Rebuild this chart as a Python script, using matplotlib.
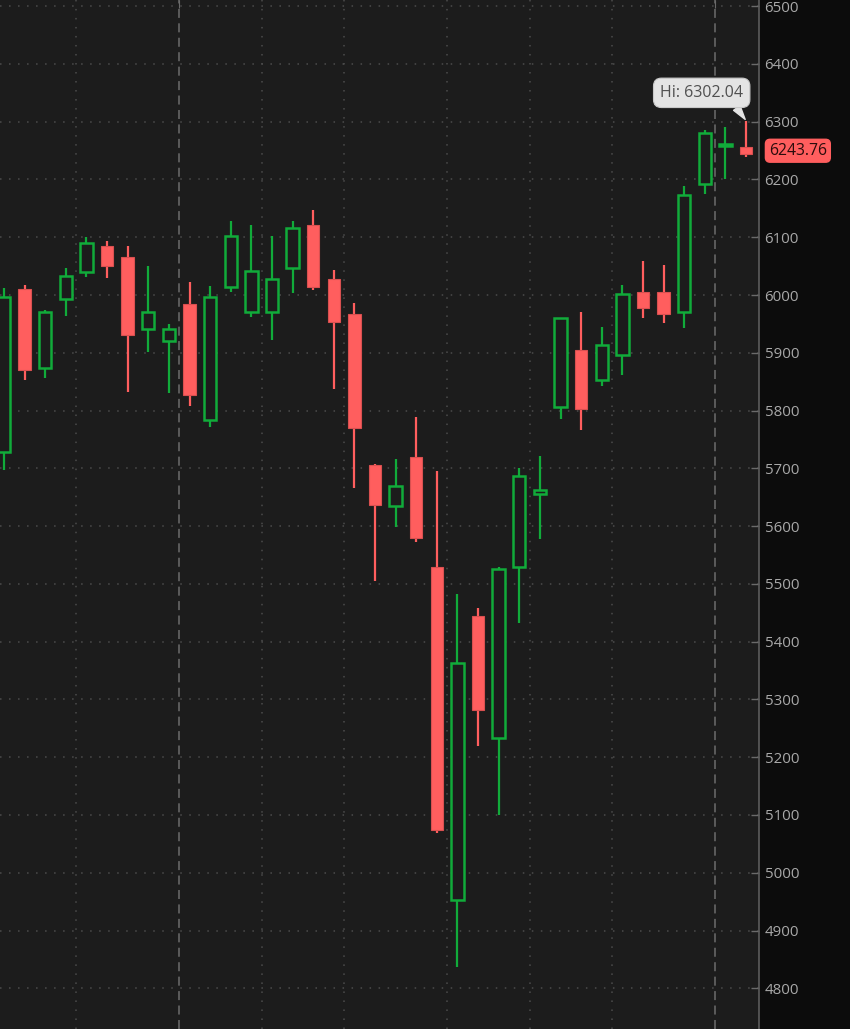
import matplotlib
matplotlib.use("Agg")

import matplotlib.pyplot as plt
import numpy as np

# weekly candles (left to right)
opens = [5728, 6010, 5874, 5993, 6040, 6085, 6065, 5942, 5921, 5984,
         5783, 6014, 5970, 5970, 6046, 6122, 6028, 5968, 5706, 5635,
         5719, 5530, 4953, 5444, 5233, 5529, 5656, 5807, 5904, 5853,
         5897, 6005, 6005, 5971, 6193, 6258, 6257]
highs = [6013, 6018, 5974, 6046, 6101, 6094, 6085, 6051, 5950, 6023,
         6016, 6129, 6122, 6103, 6129, 6148, 6044, 5987, 5708, 5716,
         5789, 5696, 5483, 5459, 5530, 5701, 5722, 5961, 5971, 5945,
         6018, 6059, 6052, 6189, 6285, 6290, 6302.04]
lows = [5697, 5853, 5856, 5964, 6032, 6029, 5832, 5902, 5830, 5808,
        5772, 6006, 5962, 5923, 6004, 6009, 5837, 5666, 5505, 5598,
        5572, 5068, 4836, 5219, 5100, 5433, 5578, 5785, 5767, 5843,
        5861, 5961, 5951, 5943, 6175, 6201, 6239]
closes = [5997, 5870, 5971, 6033, 6090, 6050, 5930, 5971, 5942, 5827,
          5997, 6103, 6041, 6028, 6116, 6014, 5954, 5769, 5637, 5669,
          5580, 5074, 5363, 5282, 5526, 5687, 5662, 5960, 5803, 5914,
          6002, 5977, 5967, 6173, 6280, 6261, 6243.76]

month_breaks = [3.5, 12.5, 16.5, 21.5, 25.5, 29.5]
year_breaks = [8.5, 34.5]
price_ticks = list(range(4800, 6501, 100))

BG = "#1c1c1c"
PANEL = "#0c0c0c"
GREEN = "#11ab3a"
RED = "#ff5e5e"
GRID = "#4c4c4c"
TEXT = "#a9a9a9"

plt.rcParams["font.family"] = ["Open Sans", "DejaVu Sans"]

fig = plt.figure(figsize=(8.5, 10.29), dpi=100, facecolor=PANEL)
ax = fig.add_axes([0, 0, 759 / 850, 1])
ax.set_facecolor(BG)

x = np.arange(len(opens))
o = np.array(opens, dtype=float)
c = np.array(closes, dtype=float)
h = np.array(highs, dtype=float)
lo = np.array(lows, dtype=float)
up = c >= o

# grid
for p in price_ticks:
    ax.axhline(p, color=GRID, lw=1.1, linestyle=(0, (1, 4.9)), zorder=0)
for m in month_breaks:
    ax.axvline(m, color=GRID, lw=1.1, linestyle=(0, (1, 4.9)), zorder=0)
for yb in year_breaks:
    ax.axvline(yb, color="#606060", lw=1.3, linestyle=(0, (5, 3)), zorder=0)

# wicks
ax.vlines(x[up], lo[up], h[up], color=GREEN, lw=1.6, zorder=2)
ax.vlines(x[~up], lo[~up], h[~up], color=RED, lw=1.6, zorder=2)

# bodies
w = 0.6
ax.bar(x[up], c[up] - o[up], bottom=o[up], width=w, facecolor=BG,
       edgecolor=GREEN, linewidth=1.8, zorder=3)
ax.bar(x[~up], o[~up] - c[~up], bottom=c[~up], width=w, facecolor=RED,
       edgecolor="#d95050", linewidth=0.8, zorder=3)

ax.set_xlim(-0.194, 36.63)
ax.set_ylim(4729.5, 6510.7)

for side in ("left", "bottom", "top"):
    ax.spines[side].set_visible(False)
ax.spines["right"].set_color("#5c5c5c")
ax.spines["right"].set_linewidth(1.2)

ax.yaxis.tick_right()
ax.set_yticks(price_ticks)
ax.tick_params(axis="y", direction="in", length=6, width=1, color="#6a6a6a",
               labelcolor=TEXT, labelsize=10.8, pad=4)
ax.xaxis.tick_top()
ax.set_xticks(year_breaks)
ax.tick_params(axis="x", direction="in", length=6, color="#6a6a6a",
               labeltop=False, labelbottom=False)

# high callout
ax.annotate(f"Hi: {highs[-1]:.2f}", xy=(x[-1], highs[-1]),
            xytext=(33.85, 6350), ha="center", va="center",
            fontsize=11.5, color="#505050",
            bbox=dict(boxstyle="round,pad=0.42,rounding_size=0.5",
                      fc="#e4e4e4", ec="#c8c8c8", lw=0.8),
            arrowprops=dict(arrowstyle="wedge,tail_width=0.5,shrink_factor=0.5",
                            fc="#e4e4e4", ec="#e4e4e4", relpos=(0.86, 0.0),
                            shrinkA=0, shrinkB=1),
            zorder=5)

# last price tag on the axis
ax.text(1.013, closes[-1] + 6, f"{closes[-1]:.2f}", transform=ax.get_yaxis_transform(),
        ha="left", va="center", fontsize=11.3, color="#2a0c0c",
        bbox=dict(boxstyle="round,pad=0.22,rounding_size=0.3", fc=RED, ec=RED),
        clip_on=False, zorder=6)

fig.savefig("out.png", dpi=100, facecolor=PANEL)
